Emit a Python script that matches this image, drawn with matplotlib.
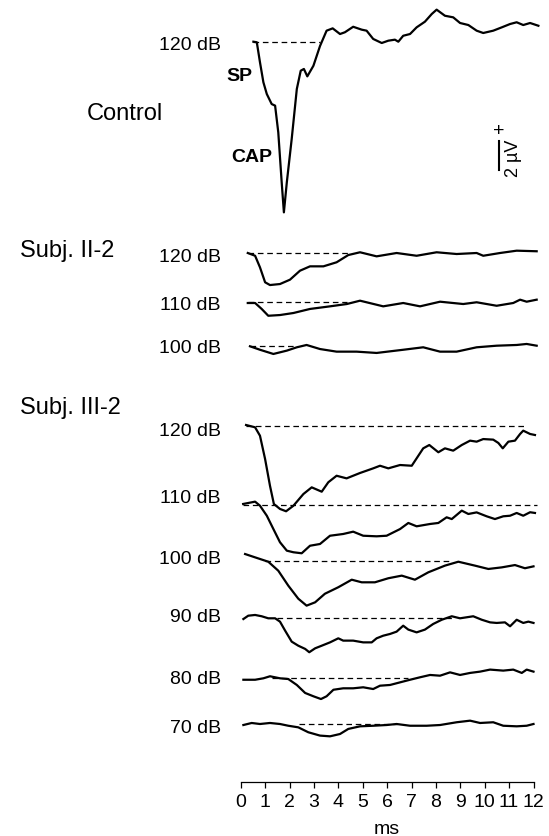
import numpy as np
import matplotlib
matplotlib.use("Agg")
import matplotlib.pyplot as plt

plt.rcParams['font.family'] = ['Liberation Sans', 'DejaVu Sans']

##########
# Traces #
##########
# time (ms) and amplitude (uV), one pair per trace

ctrl_t = [0.52, 0.66, 0.79, 0.93, 1.07, 1.27, 1.41, 1.54, 1.68, 1.77, 1.89, 2.09,
          2.30, 2.46, 2.59, 2.73, 2.98, 3.25, 3.52, 3.77, 4.07, 4.27, 4.61, 4.96,
          5.16, 5.43, 5.78, 6.05, 6.32, 6.46, 6.66, 6.94, 7.21, 7.55, 7.83, 8.03,
          8.37, 8.71, 8.99, 9.33, 9.67, 9.94, 10.35, 10.70, 11.04, 11.31, 11.58, 11.86,
          12.20]
ctrl_v = [0.00, -0.04, -1.42, -2.80, -3.61, -4.30, -4.41, -6.25, -9.70, -11.77, -9.70, -6.71,
          -3.26, -2.00, -1.88, -2.39, -1.66, -0.30, 0.76, 0.92, 0.53, 0.65, 1.03, 0.83,
          0.76, 0.19, -0.09, 0.07, 0.14, 0.00, 0.41, 0.53, 0.99, 1.38, 1.91, 2.21,
          1.79, 1.68, 1.29, 1.15, 0.76, 0.60, 0.76, 0.99, 1.22, 1.34, 1.15, 1.29,
          1.10]

s2_120_t = [0.29, 0.59, 0.79, 1.00, 1.20, 1.61, 2.02, 2.43, 2.84, 3.39, 3.93, 4.41,
            4.89, 5.57, 6.39, 7.21, 8.03, 8.85, 9.67, 9.94, 10.63, 11.31, 12.13]
s2_120_v = [0.00, -0.19, -0.99, -2.02, -2.21, -2.14, -1.84, -1.22, -0.92, -0.92, -0.64, -0.14,
            0.05, -0.23, 0.00, -0.19, 0.05, -0.07, 0.00, -0.19, 0.00, 0.16, 0.12]

s2_110_t = [0.29, 0.59, 0.86, 1.13, 1.61, 2.16, 2.84, 3.66, 4.35, 4.89, 5.84, 6.66,
            7.35, 8.17, 9.12, 9.67, 10.49, 11.17, 11.45, 11.72, 12.13]
s2_110_v = [-0.09, -0.09, -0.50, -0.97, -0.92, -0.78, -0.50, -0.32, -0.16, 0.07, -0.32, -0.09,
            -0.32, 0.00, -0.16, -0.04, -0.28, -0.09, 0.14, 0.00, 0.14]

s2_100_t = [0.38, 0.79, 1.34, 1.89, 2.30, 2.70, 3.25, 3.93, 4.75, 5.57, 6.66, 7.48,
            8.17, 8.85, 9.67, 10.49, 11.31, 11.72, 12.13]
s2_100_v = [-0.04, -0.28, -0.57, -0.34, -0.11, 0.05, -0.23, -0.41, -0.41, -0.50, -0.28, -0.11,
            -0.41, -0.41, -0.11, 0.00, 0.05, 0.12, 0.00]

s3_120_t = [0.22, 0.59, 0.79, 1.00, 1.20, 1.36, 1.61, 1.86, 2.16, 2.57, 2.91, 3.32,
            3.59, 3.93, 4.34, 4.89, 5.43, 5.71, 6.05, 6.53, 7.01, 7.21, 7.48, 7.73,
            8.10, 8.37, 8.71, 9.06, 9.40, 9.67, 9.94, 10.35, 10.56, 10.74, 10.97, 11.24,
            11.45, 11.58, 11.86, 12.06]
s3_120_v = [0.09, -0.07, -0.65, -2.26, -4.10, -5.36, -5.70, -5.86, -5.48, -4.67, -4.21, -4.51,
            -3.86, -3.41, -3.59, -3.22, -2.90, -2.72, -2.90, -2.67, -2.72, -2.21, -1.52, -1.29,
            -1.79, -1.52, -1.68, -1.29, -0.99, -1.06, -0.88, -0.92, -1.15, -1.52, -1.06, -0.99,
            -0.53, -0.30, -0.53, -0.60]

s3_110_t = [0.10, 0.59, 0.79, 1.07, 1.34, 1.61, 1.89, 2.16, 2.50, 2.84, 3.25, 3.66,
            4.20, 4.61, 5.02, 5.57, 5.98, 6.53, 6.87, 7.21, 7.76, 8.10, 8.44, 8.65,
            9.06, 9.33, 9.67, 10.08, 10.42, 10.76, 11.04, 11.31, 11.58, 11.86, 12.06]
s3_110_v = [0.05, 0.21, -0.07, -0.76, -1.68, -2.59, -3.17, -3.28, -3.35, -2.83, -2.71, -2.14,
            -2.02, -1.86, -2.14, -2.18, -2.14, -1.68, -1.26, -1.49, -1.33, -1.26, -0.87, -0.99,
            -0.41, -0.64, -0.53, -0.80, -0.99, -0.80, -0.76, -0.57, -0.76, -0.52, -0.57]

s3_100_t = [0.18, 0.59, 1.13, 1.54, 1.95, 2.36, 2.70, 3.05, 3.45, 4.00, 4.55, 4.96,
            5.50, 6.05, 6.60, 7.14, 7.69, 8.37, 8.92, 9.60, 10.15, 10.70, 11.24, 11.65, 12.00]
s3_100_v = [0.46, 0.23, -0.07, -0.69, -1.72, -2.62, -3.10, -2.87, -2.28, -1.83, -1.31, -1.49,
            -1.49, -1.21, -1.03, -1.31, -0.80, -0.34, -0.07, -0.34, -0.57, -0.46, -0.30, -0.52, -0.39]

s3_90_t = [0.11, 0.31, 0.59, 0.86, 1.13, 1.41, 1.61, 1.82, 2.09, 2.36, 2.64, 2.81,
           3.05, 3.32, 3.66, 4.00, 4.20, 4.61, 5.02, 5.37, 5.57, 5.84, 6.12, 6.39,
           6.66, 6.87, 7.21, 7.55, 7.89, 8.24, 8.65, 8.99, 9.53, 9.88, 10.22, 10.49,
           10.83, 11.04, 11.31, 11.58, 11.79, 12.00]
s3_90_v = [-0.05, 0.18, 0.23, 0.14, 0.00, 0.00, -0.23, -0.85, -1.61, -1.89, -2.11, -2.34,
           -2.07, -1.89, -1.66, -1.38, -1.54, -1.54, -1.66, -1.66, -1.38, -1.20, -1.08, -0.92,
           -0.51, -0.78, -0.97, -0.78, -0.39, -0.10, 0.14, 0.00, 0.14, -0.10, -0.28, -0.32,
           -0.28, -0.55, -0.10, -0.32, -0.23, -0.32]

s3_80_t = [0.11, 0.59, 0.93, 1.20, 1.61, 1.95, 2.30, 2.64, 2.98, 3.29, 3.52, 3.80,
           4.20, 4.61, 5.02, 5.43, 5.71, 6.12, 6.53, 6.94, 7.35, 7.76, 8.17, 8.58,
           8.99, 9.40, 9.81, 10.22, 10.76, 11.17, 11.52, 11.72, 12.00]
s3_80_v = [-0.10, -0.10, 0.00, 0.14, 0.00, -0.05, -0.46, -1.01, -1.24, -1.43, -1.24, -0.79,
           -0.69, -0.69, -0.62, -0.74, -0.51, -0.46, -0.28, -0.10, 0.07, 0.23, 0.18, 0.41,
           0.23, 0.37, 0.46, 0.60, 0.53, 0.60, 0.37, 0.60, 0.46]

s3_70_t = [0.11, 0.45, 0.79, 1.20, 1.61, 1.95, 2.36, 2.77, 3.25, 3.66, 4.07, 4.41,
           4.89, 5.43, 5.98, 6.39, 6.94, 7.62, 8.17, 8.85, 9.40, 9.81, 10.35, 10.76,
           11.31, 11.72, 12.00]
s3_70_v = [-0.07, 0.07, 0.00, 0.07, 0.00, -0.12, -0.23, -0.57, -0.80, -0.85, -0.69, -0.34,
           -0.16, -0.12, -0.07, 0.00, -0.12, -0.12, -0.07, 0.12, 0.23, 0.07, 0.12, -0.12,
           -0.16, -0.12, 0.00]

levels = ['120 dB', '120 dB', '110 dB', '100 dB',
          '120 dB', '110 dB', '100 dB', '90 dB', '80 dB', '70 dB']
groups = ['Control', 'Subj. II-2', 'Subj. III-2']

traces = [(ctrl_t, ctrl_v), (s2_120_t, s2_120_v), (s2_110_t, s2_110_v), (s2_100_t, s2_100_v),
          (s3_120_t, s3_120_v), (s3_110_t, s3_110_v), (s3_100_t, s3_100_v),
          (s3_90_t, s3_90_v), (s3_80_t, s3_80_v), (s3_70_t, s3_70_v)]

# extent (ms) of the dashed zero line under each trace
dash_span = [(0.52, 3.25), (0.29, 4.5), (0.29, 4.35), (0.38, 2.3),
             (0.22, 11.65), (0.10, 12.15), (1.0, 8.65), (1.5, 8.7), (1.3, 6.85), (2.4, 6.4)]

##########
# Layout #
##########
W, H = 549, 837
PX_MS = 24.4      # pixels per ms
PX_UV = 14.5      # pixels per uV
X0 = 240.7        # pixel of t = 0

# baseline pixel rows and label rows
base_px = [42.7, 254, 302.7, 346.7, 427.3, 505.7, 561.7, 619.3, 679.3, 725]
label_px = [46, 258, 306, 349, 431, 499, 560, 618, 680, 729]
group_px = [(125, 114, 'center'), (20, 251, 'left'), (20, 408, 'left')]

fig = plt.figure(figsize=(W / 100, H / 100), dpi=100)
ax = fig.add_axes([0, 0, 1, 1])
ax.set_xlim(-X0 / PX_MS, (W - X0) / PX_MS)
ax.set_ylim(-H / PX_UV, 0)

for (t, v), bp, (d0, d1) in zip(traces, base_px, dash_span):
    off = -bp / PX_UV
    ax.plot(t, np.array(v) + off, color='black', lw=1.6, solid_joinstyle='round')
    ax.hlines(off, d0, d1, colors='black', lw=0.9, linestyles=(0, (4.5, 3)))

def ftext(x, y, s, **kw):
    fig.text(x / W, 1 - y / H, s, va='center', **kw)

for lab, ly in zip(levels, label_px):
    ftext(221, ly, lab, ha='right', fontsize=14)

for g, (gx, gy, ha) in zip(groups, group_px):
    ftext(gx, gy, g, ha=ha, fontsize=17)

ftext(239, 77, 'SP', ha='center', fontsize=14, fontweight='bold')
ftext(252, 157, 'CAP', ha='center', fontsize=14, fontweight='bold')

# 2 uV scale bar
sb_x = (499 - X0) / PX_MS
sb_top = -141.7 / PX_UV
ax.plot([sb_x, sb_x], [sb_top, sb_top - 2], color='black', lw=1.5)
ftext(499, 131, '+', ha='center', fontsize=14)
ftext(513, 158, '2 µV', ha='center', fontsize=13, rotation=90)

# time axis
for s in ['top', 'right', 'left']:
    ax.spines[s].set_visible(False)
ax.spines['bottom'].set_position(('data', -782.7 / PX_UV))
ax.spines['bottom'].set_bounds(0, 12)
ax.spines['bottom'].set_linewidth(0.9)
ax.set_xticks(range(13))
ax.set_yticks([])
ax.tick_params(axis='x', length=4, width=0.9, labelsize=14, pad=4)
ax.set_xlabel('ms', fontsize=14, labelpad=7, x=(X0 + 6 * PX_MS) / W)

fig.savefig('out.png', dpi=100)
